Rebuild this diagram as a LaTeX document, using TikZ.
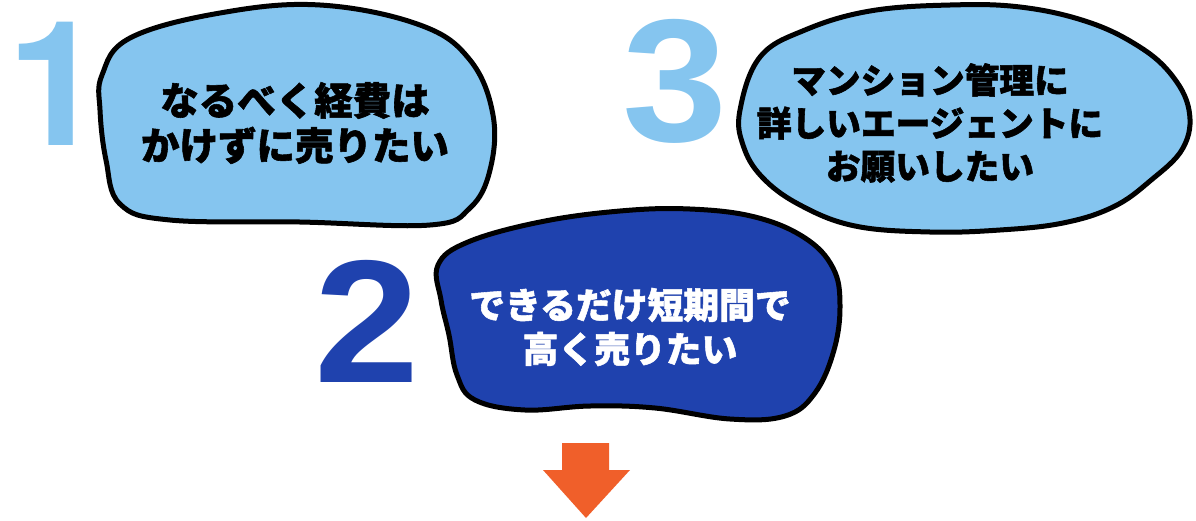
\documentclass[tikz,border=0pt]{standalone}
\usepackage{fontspec}
\newfontfamily\jpfont[BoldFeatures={FakeBold=1.5}]{Noto Sans CJK JP}
\newfontfamily\numfont{Liberation Sans}
\newfontfamily\onefont{TeX Gyre Heros}
\definecolor{lightblue}{HTML}{85C5EF}
\definecolor{darkblue}{HTML}{1F42AE}
\definecolor{arroworange}{HTML}{F05F2A}
\tikzset{
  blobline/.style={line width=5pt, draw=black, line join=round},
  numtext/.style={inner sep=0pt, anchor=base, font=\numfont\bfseries\fontsize{175}{175}\selectfont, xscale=1.08},
  jptext/.style={inner sep=0pt, align=center, font=\jpfont\bfseries},
}
\begin{document}
\begin{tikzpicture}[x=1pt,y=-1pt]
\useasboundingbox (0,0) rectangle (1196,520);
% blob 1
\filldraw[blobline, fill=lightblue] plot[smooth cycle, tension=0.65] coordinates {
 (102,75) (130,38) (220,13) (320,5) (420,25) (470,60) (493,115) (490,170)
 (470,208) (430,225) (300,222) (170,220) (120,204) (106,160) (100,110)};
% blob 3
\filldraw[blobline, fill=lightblue] plot[smooth cycle, tension=0.65] coordinates {
 (740,110) (760,57) (805,30) (870,11) (950,5) (1020,7) (1085,21) (1135,44)
 (1170,73) (1189,110) (1183,148) (1150,181) (1113,207) (1063,223) (1000,230)
 (930,232) (855,226) (800,205) (762,177) (743,145)};
% blob 2
\filldraw[blobline, fill=darkblue] plot[smooth cycle, tension=0.65] coordinates {
 (438,265) (468,242) (540,222) (620,211) (690,209) (755,217) (805,238) (833,268)
 (840,305) (834,350) (815,393) (785,416) (730,419) (655,408) (590,406)
 (525,410) (475,400) (457,375) (449,335) (441,300)};
% numbers
\node[inner sep=0pt, anchor=base, text=lightblue, font=\onefont\bfseries\fontsize{174}{174}\selectfont] (n1) at (56,145) {1};
\node[numtext, text=darkblue] (n2) at (367,382) {2};
\node[numtext, text=lightblue] (n3) at (675,141) {3};
% texts
\node[jptext, font=\jpfont\bfseries\fontsize{38.5}{45}\selectfont] (t1) at (295,123)
  {なるべく経費は\\かけずに売りたい};
\node[jptext, text=white, font=\jpfont\bfseries\fontsize{35.8}{44}\selectfont] (t2) at (630,327)
  {できるだけ短期間で\\高く売りたい};
\node[jptext, font=\jpfont\bfseries\fontsize{34.7}{43}\selectfont] (t3) at (930,123)
  {マンション管理に\\詳しいエージェントに\\お願いしたい};
% arrow
\fill[arroworange] (562,443) -- (609,443) -- (609,470) -- (630,470) -- (586,518)
  -- (543,470) -- (562,470) -- cycle;
\end{tikzpicture}
\end{document}
